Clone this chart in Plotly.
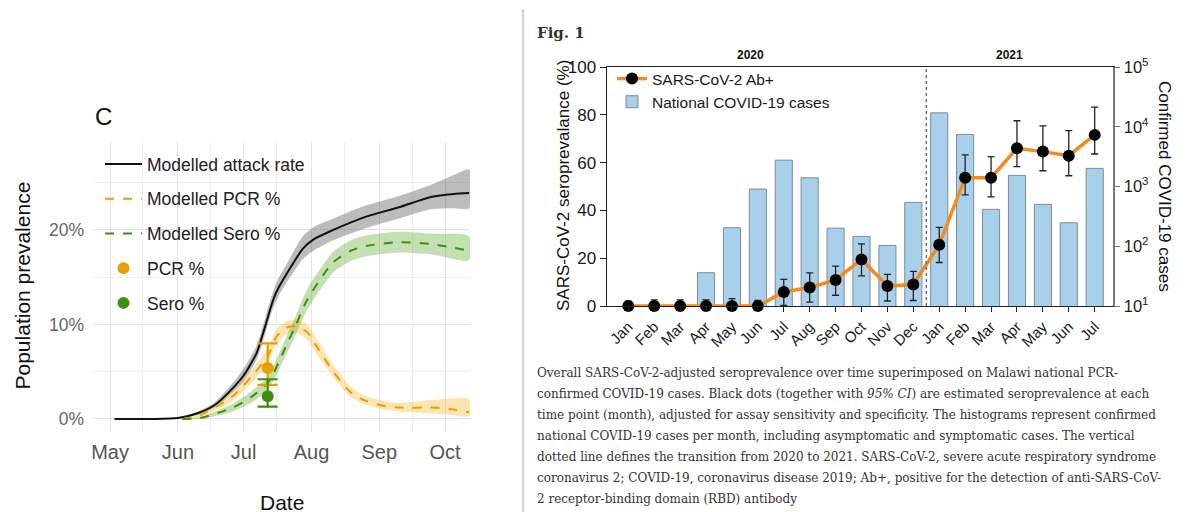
import plotly.graph_objects as go

W, H = 1187, 512
OFF = 8  # page body margin of the generated html


def fx(p):
    return (p - OFF) / W


def fy(p):
    return 1 - (p - OFF) / H


# ---------------- Left panel (C) data ----------------
month_ticks = ["2020-05-01", "2020-06-01", "2020-07-01", "2020-08-01", "2020-09-01", "2020-10-01"]
month_labels = ["May", "Jun", "Jul", "Aug", "Sep", "Oct"]
mid_ticks = ["2020-05-16", "2020-06-16", "2020-07-16", "2020-08-16", "2020-09-16"]

attack_dates = ["2020-05-03", "2020-05-20", "2020-06-01", "2020-06-10", "2020-06-18", "2020-06-25",
                "2020-07-01", "2020-07-07", "2020-07-09", "2020-07-11", "2020-07-13", "2020-07-15",
                "2020-07-17", "2020-07-20", "2020-07-24", "2020-07-28", "2020-08-02", "2020-08-11",
                "2020-08-26", "2020-09-10", "2020-09-25", "2020-10-05", "2020-10-12"]
attack = [0, 0, 0.1, 0.6, 1.5, 3.0, 4.6, 7.0, 8.4, 9.9, 11.5, 12.9, 13.9, 15.1, 16.6, 18.0, 19.0, 20.0,
          21.4, 22.4, 23.5, 23.8, 23.9]
attack_lo = [0, 0, 0.05, 0.45, 1.2, 2.6, 4.0, 6.3, 7.6, 9.1, 10.7, 12.0, 13.0, 14.2, 15.6, 16.9, 17.8, 18.9,
             20.2, 21.2, 22.2, 22.3, 22.3]
attack_hi = [0, 0, 0.15, 0.75, 1.8, 3.5, 5.3, 7.8, 9.2, 10.8, 12.4, 13.8, 14.9, 16.1, 17.8, 19.3, 20.3, 21.2,
             22.6, 23.6, 24.8, 25.8, 26.4]

pcr_dates = ["2020-06-03", "2020-06-11", "2020-06-26", "2020-07-05", "2020-07-12", "2020-07-16",
             "2020-07-21", "2020-07-25", "2020-07-30", "2020-08-03", "2020-08-11", "2020-08-19",
             "2020-08-26", "2020-09-03", "2020-09-10", "2020-09-25", "2020-10-05", "2020-10-12"]
pcr_mod = [0, 0.4, 2.4, 4.6, 6.6, 8.7, 9.7, 9.8, 9.2, 7.8, 5.0, 2.8, 1.9, 1.4, 1.2, 1.2, 1.0, 0.7]
pcr_lo = [0, 0.2, 1.9, 3.9, 5.8, 7.9, 9.0, 9.1, 8.4, 7.0, 4.4, 2.3, 1.5, 1.0, 0.8, 0.6, 0.4, 0.3]
pcr_hi = [0, 0.6, 2.9, 5.3, 7.4, 9.5, 10.4, 10.5, 10.0, 8.6, 5.7, 3.4, 2.4, 1.9, 1.7, 2.0, 2.2, 2.1]

sero_dates = ["2020-06-03", "2020-06-11", "2020-06-26", "2020-07-05", "2020-07-12", "2020-07-15",
              "2020-07-19", "2020-07-25", "2020-07-30", "2020-08-06", "2020-08-11", "2020-08-19",
              "2020-08-26", "2020-09-10", "2020-09-25", "2020-10-12"]
sero_mod = [0, 0.1, 1.2, 2.4, 3.8, 5.0, 7.0, 10.0, 12.6, 15.1, 16.6, 17.8, 18.3, 18.7, 18.5, 17.8]
sero_mod_lo = [0, 0.0, 0.8, 1.8, 3.1, 4.2, 6.1, 9.0, 11.5, 14.0, 15.5, 16.7, 17.2, 17.6, 17.4, 16.8]
sero_mod_hi = [0, 0.2, 1.6, 3.0, 4.5, 5.8, 7.9, 11.0, 13.7, 16.2, 17.7, 18.9, 19.4, 19.8, 19.6, 19.3]

obs_date = ["2020-07-12"]
obs_halfwidth_days = 7.5
pcr_obs, pcr_obs_lo, pcr_obs_hi = [5.4], [3.6], [8.0]
sero_obs, sero_obs_lo, sero_obs_hi = [2.4], [1.3], [4.2]

# ---------------- Right panel (Fig. 1) data ----------------
months_right = ["Jan", "Feb", "Mar", "Apr", "May", "Jun", "Jul", "Aug", "Sep", "Oct", "Nov", "Dec",
                "Jan", "Feb", "Mar", "Apr", "May", "Jun", "Jul"]
seroprev = [0, 0, 0, 0, 0, 0, 5.9, 7.7, 10.9, 19.5, 8.4, 9.0, 25.6, 53.7, 53.7, 66.0, 64.6, 62.9, 71.6]
seroprev_hi = [2.0, 2.6, 2.6, 2.6, 3.1, 2.3, 11.1, 13.9, 16.7, 26.0, 13.2, 14.5, 32.9, 63.2, 62.5, 77.5, 75.4, 73.4, 83.2]
seroprev_lo = [0, 0, 0, 0, 0, 0, 0.3, 1.6, 4.5, 12.6, 2.1, 2.3, 18.2, 46.5, 45.7, 58.3, 56.6, 54.5, 63.6]
cases = [None, None, None, 36, 204, 906, 2760, 1397, 201, 146, 103, 542, 17070, 7430, 414, 1535, 502, 247, 2010]
year_labels = ["2020", "2021"]
year_centers = [4.7, 14.72]
year_split = 11.5

caption_lines = [
    "Overall SARS-CoV-2-adjusted seroprevalence over time superimposed on Malawi national PCR-",
    "confirmed COVID-19 cases. Black dots (together with <i>95% CI</i>) are estimated seroprevalence at each",
    "time point (month), adjusted for assay sensitivity and specificity. The histograms represent confirmed",
    "national COVID-19 cases per month, including asymptomatic and symptomatic cases. The vertical",
    "dotted line defines the transition from 2020 to 2021. SARS-CoV-2, severe acute respiratory syndrome",
    "coronavirus 2; COVID-19, coronavirus disease 2019; Ab+, positive for the detection of anti-SARS-CoV-",
    "2 receptor-binding domain (RBD) antibody",
]

ORANGE_L = "#E69F00"
GREEN_L = "#3f8f0f"
SANS = "Liberation Sans"
SERIF = "DejaVu Serif"

fig = go.Figure()


def ribbon(dates, lo, hi, color):
    return go.Scatter(x=dates + dates[::-1], y=hi + lo[::-1], fill="toself", fillcolor=color,
                      line=dict(width=0, shape="spline", smoothing=0.7), mode="lines",
                      hoverinfo="skip", showlegend=False, xaxis="x", yaxis="y")


fig.add_trace(ribbon(attack_dates, attack_lo, attack_hi, "rgba(95,95,95,0.42)"))
fig.add_trace(ribbon(pcr_dates, pcr_lo, pcr_hi, "rgba(247,190,60,0.40)"))
fig.add_trace(ribbon(sero_dates, sero_mod_lo, sero_mod_hi, "rgba(100,170,50,0.38)"))

fig.add_trace(go.Scatter(x=attack_dates, y=attack, mode="lines", name="Modelled attack rate",
                         line=dict(color="#111111", width=2, shape="spline", smoothing=0.7),
                         legendgroup="a", xaxis="x", yaxis="y"))
fig.add_trace(go.Scatter(x=pcr_dates, y=pcr_mod, mode="lines", name="Modelled PCR %",
                         line=dict(color=ORANGE_L, width=2, dash="dash", shape="spline", smoothing=0.7),
                         legendgroup="b", xaxis="x", yaxis="y"))
fig.add_trace(go.Scatter(x=sero_dates, y=sero_mod, mode="lines", name="Modelled Sero %",
                         line=dict(color=GREEN_L, width=2, dash="dash", shape="spline", smoothing=0.7),
                         legendgroup="c", xaxis="x", yaxis="y"))

ms_day = 86400000
fig.add_trace(go.Scatter(
    x=obs_date, y=pcr_obs, mode="markers", name="PCR %", legendgroup="d",
    marker=dict(color=ORANGE_L, size=12),
    error_y=dict(type="data", symmetric=False, array=[pcr_obs_hi[0] - pcr_obs[0]],
                 arrayminus=[pcr_obs[0] - pcr_obs_lo[0]], color=ORANGE_L, thickness=2.2, width=10),
    error_x=dict(type="constant", value=obs_halfwidth_days * ms_day, color=ORANGE_L, thickness=2.2, width=0),
    xaxis="x", yaxis="y"))
fig.add_trace(go.Scatter(
    x=obs_date, y=sero_obs, mode="markers", name="Sero %", legendgroup="e",
    marker=dict(color=GREEN_L, size=12),
    error_y=dict(type="data", symmetric=False, array=[sero_obs_hi[0] - sero_obs[0]],
                 arrayminus=[sero_obs[0] - sero_obs_lo[0]], color=GREEN_L, thickness=2.2, width=10),
    error_x=dict(type="constant", value=obs_halfwidth_days * ms_day, color=GREEN_L, thickness=2.2, width=0),
    xaxis="x", yaxis="y"))

# right panel
idx = list(range(len(months_right)))
fig.add_trace(go.Bar(x=idx, y=cases, width=0.66, name="National COVID-19 cases",
                     marker=dict(color="#a9d0ea", line=dict(color="#7d8b97", width=1)),
                     xaxis="x2", yaxis="y2", legend="legend2", legendrank=2))
fig.add_trace(go.Scatter(
    x=idx, y=seroprev, mode="lines+markers", name="SARS-CoV-2 Ab+",
    line=dict(color="#f28a1e", width=3.5), marker=dict(color="black", size=12),
    error_y=dict(type="data", symmetric=False,
                 array=[h - v for h, v in zip(seroprev_hi, seroprev)],
                 arrayminus=[v - l for v, l in zip(seroprev, seroprev_lo)],
                 color="#222222", thickness=1.3, width=3.5),
    cliponaxis=False, xaxis="x2", yaxis="y3", legend="legend2", legendrank=1))

grid_major = "#e4e4e4"
grid_minor = "#efefef"

fig.update_layout(
    template="none",
    width=W, height=H, margin=dict(l=0, r=0, t=0, b=0, pad=0, autoexpand=False),
    paper_bgcolor="white", plot_bgcolor="white",
    font=dict(family=SANS, color="#222222"),
    xaxis=dict(domain=[fx(93), fx(470)], anchor="y", type="date", automargin=False,
               range=["2020-04-23 05:00", "2020-10-12 10:00"],
               tickmode="array", tickvals=month_ticks, ticktext=month_labels,
               showgrid=True, gridcolor=grid_major, gridwidth=1.3,
               minor=dict(tickmode="array", tickvals=mid_ticks, showgrid=True, gridcolor=grid_minor, gridwidth=0.9),
               zeroline=False, showline=False, ticks="",
               tickfont=dict(family=SANS, size=20, color="#555555"), ticklabelstandoff=6),
    yaxis=dict(domain=[fy(432), fy(142)], anchor="x", range=[-1.38, 29.3], automargin=False,
               tickmode="array", tickvals=[0, 10, 20], ticktext=["0%", "10%", "20%"],
               showgrid=True, gridcolor=grid_major, gridwidth=1.3,
               minor=dict(tickmode="array", tickvals=[5, 15, 25], showgrid=True, gridcolor=grid_minor, gridwidth=0.9),
               zeroline=False, showline=False, ticks="",
               tickfont=dict(family=SANS, size=17.5, color="#666666"), ticklabelstandoff=8),
    xaxis2=dict(domain=[fx(606.7), fx(1112.7)], anchor="y2", range=[-0.834, 18.695], automargin=False,
                tickmode="array", tickvals=idx, ticktext=months_right, tickangle=-45,
                ticks="outside", ticklen=5, tickcolor="#222222", tickwidth=1.2,
                showline=True, linecolor="#222222", linewidth=1.3, mirror=True,
                showgrid=False, zeroline=False,
                tickfont=dict(family=SANS, size=15, color="#1a1a1a")),
    yaxis2=dict(domain=[fy(306), fy(67)], anchor="x2", side="right", type="log", automargin=False,
                range=[1, 5], tickmode="array", tickvals=[10, 100, 1000, 10000, 100000],
                ticktext=["10<sup>1</sup>", "10<sup>2</sup>", "10<sup>3</sup>", "10<sup>4</sup>", "10<sup>5</sup>"],
                ticks="outside", ticklen=6, tickcolor="#777777", tickwidth=1.3,
                showline=True, linecolor="#777777", linewidth=1.5,
                showgrid=False, zeroline=False,
                tickfont=dict(family=SANS, size=16.5, color="#1a1a1a")),
    yaxis3=dict(overlaying="y2", anchor="x2", side="left", range=[0, 100], automargin=False,
                tickmode="array", tickvals=[0, 20, 40, 60, 80, 100],
                ticks="outside", ticklen=6, tickcolor="#222222", tickwidth=1.3,
                showline=True, linecolor="#222222", linewidth=1.3,
                showgrid=False, zeroline=False,
                tickfont=dict(family=SANS, size=17, color="#1a1a1a")),
    legend=dict(x=fx(100), y=fy(146), xanchor="left", yanchor="top", itemwidth=37,
                bgcolor="rgba(0,0,0,0)", traceorder="grouped", tracegroupgap=9,
                font=dict(family=SANS, size=17.5, color="#222222")),
    legend2=dict(x=fx(612), y=fy(62), xanchor="left", yanchor="top",
                 bgcolor="rgba(0,0,0,0)", traceorder="normal",
                 font=dict(family=SANS, size=15.5, color="#1a1a1a")),
    showlegend=True,
)

shapes = [
    dict(type="line", xref="x2", yref="y3", x0=year_split, x1=year_split, y0=0, y1=100,
         line=dict(color="#555555", width=1.2, dash="dot")),
    dict(type="line", xref="paper", yref="paper", x0=fx(523), x1=fx(523), y0=fy(520), y1=fy(9),
         line=dict(color="#d4d4d4", width=2.5)),
]
fig.update_layout(shapes=shapes)


def note(text, x, y, size, family=SANS, color="#111111", angle=0, xanchor="center", xref="paper"):
    return dict(text=text, x=x, y=fy(y), xref=xref, yref="paper", showarrow=False,
                textangle=angle, xanchor=xanchor, yanchor="middle",
                font=dict(family=family, size=size, color=color))


ann = [
    note("C", fx(103.5), 116.5, 24),
    note("Population prevalence", fx(21.5), 286, 21, angle=-90),
    note("Date", fx(282), 502, 21),
    note("SARS-CoV-2 seroprevalance (%)", fx(563), 186, 17, angle=-90),
    note("Confirmed COVID-19 cases", fx(1165), 186, 17, angle=90),
    note("<b>Fig. 1</b>", fx(535), 33, 15, family=SERIF, color="#333333", xanchor="left"),
]
for lab, cx in zip(year_labels, year_centers):
    ann.append(note("<b>%s</b>" % lab, cx, 55, 12, xref="x2"))
for i, line in enumerate(caption_lines):
    ann.append(note(line, fx(535), 373 + 21 * i, 12, family=SERIF, color="#333333", xanchor="left"))
fig.update_layout(annotations=ann)

fig.write_html("out.html")
